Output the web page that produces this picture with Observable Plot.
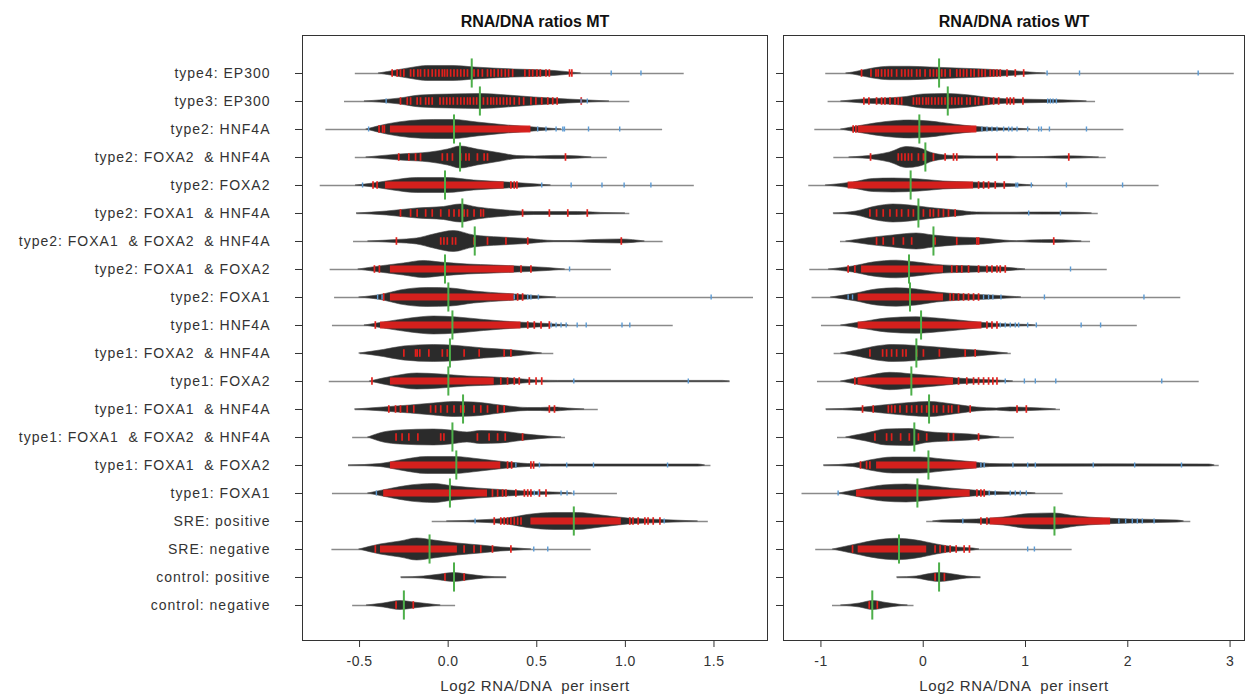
<!DOCTYPE html>
<html>
<head>
<meta charset="utf-8">
<script src="https://cdn.jsdelivr.net/npm/d3@7"></script>
<script src="https://cdn.jsdelivr.net/npm/@observablehq/plot@0.6"></script>
<style>
  body { margin: 0; background: #fff; }
  #wrap { position: relative; width: 1245px; height: 700px; overflow: hidden; }
  #wrap svg { position: absolute; top: 0; display: block; }
  #wrap svg text { white-space: pre; }
  g[aria-label="y-axis tick label"] text { letter-spacing: 1px; }
  g[aria-label="x-axis tick label"] text { letter-spacing: 0.5px; }
  .xl text { letter-spacing: 0.6px; }
</style>
</head>
<body>
<div id="wrap"></div>
<script>
// ---------- categories (top to bottom) ----------
const categories = [
  "type4: EP300", "type3: EP300", "type2: HNF4A", "type2: FOXA2  & HNF4A", "type2: FOXA2",
  "type2: FOXA1  & HNF4A", "type2: FOXA1  & FOXA2  & HNF4A", "type2: FOXA1  & FOXA2", "type2: FOXA1",
  "type1: HNF4A", "type1: FOXA2  & HNF4A", "type1: FOXA2", "type1: FOXA1  & HNF4A",
  "type1: FOXA1  & FOXA2  & HNF4A", "type1: FOXA1  & FOXA2", "type1: FOXA1",
  "SRE: positive", "SRE: negative", "control: positive", "control: negative"
];
const mtTicks = [-0.5, 0, 0.5, 1, 1.5];
const wtTicks = [-1, 0, 1, 2, 3];
const xLabel = "Log2 RNA/DNA  per insert";

// ---------- MT panel ----------
const mtMin = [-0.524, -0.585, -0.69, -0.524, -0.722, -0.515, -0.534, -0.666, -0.641, -0.653, -0.496, -0.671, -0.524, -0.539, -0.562, -0.653, -0.09, -0.656, -0.264, -0.539];
const mtMax = [1.332, 1.025, 1.21, 0.898, 1.389, 1.025, 1.213, 0.921, 1.723, 1.27, 0.596, 1.591, 0.847, 0.662, 1.483, 0.955, 1.468, 0.807, 0.33, 0.042];
const mtMedian = [0.133, 0.179, 0.033, 0.067, -0.018, 0.08, 0.15, -0.018, 0.001, 0.024, 0.01, 0.001, 0.084, 0.024, 0.046, 0.01, 0.709, -0.105, 0.033, -0.25];
// density profile per bean: [value, half-width density reading]
const mtDensity = [
  [[-0.39,0],[-0.29,3],[-0.19,6],[-0.12,7.5],[0.03,7.5],[0.15,6],[0.37,4],[0.6,2.5],[0.75,0]],
  [[-0.47,0],[-0.27,3],[-0.156,6],[0.014,7],[0.184,7.5],[0.335,6],[0.486,4],[0.675,2],[0.91,0]],
  [[-0.46,0],[-0.345,5],[-0.21,8.5],[-0.08,9.5],[0.03,9.5],[0.165,7],[0.335,4],[0.486,2],[0.64,0]],
  [[-0.46,0],[-0.27,3],[-0.1,5],[0,8],[0.07,11],[0.165,8],[0.3,4],[0.39,1.5],[0.49,1],[0.6,1.6],[0.68,1.5],[0.81,0]],
  [[-0.52,0],[-0.42,2],[-0.31,5],[-0.175,7.5],[-0.005,7.5],[0.146,5],[0.335,3],[0.505,1],[0.58,0]],
  [[-0.515,0],[-0.345,2],[-0.175,5],[-0.024,6.5],[0.071,9],[0.165,6],[0.297,3.5],[0.486,1.5],[0.732,1.5],[0.864,0.6],[1.0,0]],
  [[-0.45,0],[-0.29,1.5],[-0.175,3],[-0.08,7],[0.033,10.5],[0.146,6],[0.297,4],[0.449,2.5],[0.6,0.5],[0.675,0.4],[0.83,1.5],[0.977,2],[1.11,0]],
  [[-0.505,0],[-0.364,3.5],[-0.25,6],[-0.137,8.5],[-0.042,7],[0.109,5],[0.26,4],[0.392,3],[0.562,1.5],[0.66,0]],
  [[-0.5,0],[-0.364,3],[-0.269,7],[-0.118,9.5],[0.014,9],[0.146,6],[0.335,3.5],[0.486,1.5],[0.61,0]],
  [[-0.47,0],[-0.345,3.5],[-0.212,7],[-0.08,9],[0.052,8],[0.203,5.5],[0.392,3],[0.562,1.5],[0.68,0]],
  [[-0.5,0],[-0.364,3.5],[-0.25,7],[-0.08,8.5],[0.052,7.5],[0.203,5],[0.373,3],[0.53,0]],
  [[-0.44,0],[-0.307,5],[-0.175,8],[-0.042,7],[0.109,5],[0.26,4],[0.392,2.5],[0.524,0.8],[0.62,0.6],[1.55,0.6],[1.59,0]],
  [[-0.524,0],[-0.364,2],[-0.212,4],[-0.08,6],[0.033,7.5],[0.146,7],[0.297,4],[0.449,1.5],[0.524,1.5],[0.6,2],[0.675,1],[0.77,0]],
  [[-0.45,0],[-0.364,5],[-0.269,7],[-0.08,8],[0.014,7],[0.109,5],[0.184,6.5],[0.297,6],[0.411,3.5],[0.562,1],[0.64,0]],
  [[-0.56,0],[-0.382,1.5],[-0.269,5],[-0.118,8.5],[0.033,8.5],[0.184,6],[0.335,3],[0.449,1.5],[0.581,1],[1.41,1],[1.45,0]],
  [[-0.45,0],[-0.326,4.5],[-0.212,8],[-0.08,9.5],[0.033,7],[0.165,5],[0.335,3],[0.486,1.5],[0.628,0.8],[0.7,0]],
  [[-0.005,0],[0.222,1.5],[0.335,3],[0.449,6.5],[0.6,8.5],[0.732,8.5],[0.864,6],[1.015,3],[1.204,1.5],[1.41,0]],
  [[-0.5,0],[-0.382,5],[-0.269,8],[-0.175,11],[-0.08,9],[0.052,6],[0.184,4],[0.297,2],[0.392,1],[0.47,0]],
  [[-0.264,0],[-0.137,1],[-0.042,3],[0.033,4.5],[0.109,3],[0.203,1],[0.33,0]],
  [[-0.458,0],[-0.364,2],[-0.269,4.5],[-0.194,3],[-0.118,1.5],[-0.042,0]]
];
const mtDenseRuns = [
  [], [], [[-0.326,0.467]], [], [[-0.354,0.316]], [], [], [[-0.326,0.373]], [[-0.326,0.373]], [[-0.382,0.411]],
  [], [[-0.326,0.26]], [], [], [[-0.326,0.297]], [[-0.364,0.222]], [[0.467,0.977]], [[-0.382,0.052]], [], []
];
const mtRed = [
  [-0.316,-0.288,-0.269,-0.25,-0.212,-0.194,-0.171,-0.156,-0.133,-0.112,-0.09,-0.071,-0.052,-0.033,-0.02,-0.005,0.014,0.033,0.052,0.071,0.09,0.109,0.146,0.169,0.193,0.222,0.241,0.26,0.282,0.301,0.322,0.341,0.364,0.433,0.458,0.477,0.501,0.52,0.552,0.571,0.685,0.698],
  [-0.269,-0.231,-0.212,-0.175,-0.156,-0.127,-0.109,-0.09,-0.046,-0.027,-0.008,0.01,0.029,0.052,0.071,0.09,0.109,0.124,0.143,0.161,0.199,0.222,0.241,0.256,0.274,0.293,0.312,0.331,0.35,0.373,0.401,0.426,0.467,0.495,0.528,0.562,0.59,0.615,0.751],
  [-0.39,-0.37,-0.36],
  [-0.279,-0.222,-0.184,-0.156,-0.033,-0.005,0.024,0.071,0.1,0.118,0.165,0.203,0.222,0.662],
  [-0.424,-0.401,0.354,0.373,0.388],
  [-0.269,-0.212,-0.175,-0.127,-0.09,-0.042,0.005,0.033,0.061,0.09,0.109,0.146,0.184,0.199,0.42,0.571,0.675,0.785],
  [-0.292,-0.042,-0.024,-0.005,0.024,0.042,0.146,0.222,0.326,0.449,0.977],
  [-0.416,-0.388,0.411,0.467],
  [-0.364,0.392,0.42],
  [-0.411,0.449,0.486,0.524,0.571],
  [-0.25,-0.184,-0.175,-0.16,-0.109,-0.033,-0.005,0.09,0.175,0.316,0.354],
  [-0.43,0.297,0.335,0.373,0.401,0.458,0.496,0.528],
  [-0.335,-0.297,-0.269,-0.231,-0.194,-0.099,-0.071,-0.042,-0.005,0.033,0.071,0.09,0.146,0.184,0.222,0.279,0.316,0.571,0.6],
  [-0.294,-0.26,-0.222,-0.171,-0.042,-0.024,0.165,0.231,0.279,0.322,0.42],
  [0.335,0.358,0.467,0.482],
  [0.25,0.279,0.307,0.326,0.382,0.43,0.449,0.467,0.515,0.552],
  [0.26,0.297,0.316,0.335,0.354,0.373,0.392,0.411,1.025,1.043,1.072,1.11,1.128,1.157,1.195],
  [-0.411,0.09,0.146,0.184,0.25,0.354],
  [-0.018,0.09],
  [-0.294,-0.197]
];
const mtBlue = [
  [0.92,1.088], [-0.35,0.75,0.785], [-0.449,0.505,0.552,0.609,0.647,0.656,0.792,0.968], [],
  [-0.483,0.528,0.694,0.868,0.993,1.144], [], [], [0.685], [-0.398,-0.373,0.373,0.449,0.467,0.509,1.484],
  [0.581,0.609,0.637,0.666,0.728,0.779,0.981,1.025], [], [0.709,1.355], [], [], [0.382,0.515,0.669,0.82,1.238],
  [-0.405,0.486,0.509,0.637,0.671,0.709], [0.152,1.219], [0.483,0.562], [], []
];

// ---------- WT panel ----------
const wtMin = [-0.953, -0.93, -1.06, -0.874, -1.119, -0.874, -0.809, -1.109, -1.087, -0.995, -0.871, -1.034, -0.946, -0.838, -0.969, -1.185, 0.034, -1.051, -0.253, -0.887];
const wtMax = [3.041, 1.685, 1.962, 1.789, 2.306, 1.711, 1.636, 1.799, 2.518, 2.093, 0.861, 2.698, 1.342, 0.891, 2.894, 1.368, 2.616, 1.456, 0.564, -0.09];
const wtMedian = [0.155, 0.24, -0.038, 0.021, -0.123, -0.047, 0.1, -0.139, -0.129, -0.021, -0.067, -0.116, 0.057, -0.087, 0.051, -0.057, 1.283, -0.237, 0.155, -0.498];
const wtDensity = [
  [[-0.75,0],[-0.684,1],[-0.489,5],[-0.325,6.7],[-0.129,6.7],[0.067,6],[0.328,5],[0.59,4],[0.851,2.5],[1.113,0.5],[1.2,0]],
  [[-0.8,0],[-0.587,2],[-0.358,3],[-0.162,4.5],[0.002,7],[0.23,7.5],[0.459,6],[0.688,3],[0.917,2],[1.178,1.5],[1.538,0.5],[1.6,0]],
  [[-0.8,0],[-0.587,4],[-0.358,7.5],[-0.129,9],[0.067,8],[0.296,5],[0.525,2.5],[0.786,1],[0.982,0.5],[1.05,0]],
  [[-0.72,0],[-0.456,2.5],[-0.325,5],[-0.162,10.5],[-0.031,9],[0.1,4],[0.296,1.5],[0.525,1],[0.851,1],[0.949,0.3],[1.178,0.5],[1.407,1.2],[1.668,0.3],[1.72,0]],
  [[-0.95,0],[-0.685,3],[-0.489,6.5],[-0.292,7],[-0.031,6],[0.198,4],[0.459,3],[0.721,2],[1.015,0.5],[1.08,0]],
  [[-0.874,0],[-0.652,2],[-0.456,7],[-0.292,9],[-0.129,8],[0.067,5.5],[0.328,3],[0.525,1],[0.851,0.8],[1.178,1],[1.505,0.8],[1.65,0]],
  [[-0.75,0],[-0.521,3.5],[-0.292,6],[-0.064,8],[0.1,6],[0.328,4],[0.59,3],[0.786,1],[0.917,0.3],[1.047,1],[1.276,1.5],[1.44,0.8],[1.55,0]],
  [[-0.92,0],[-0.685,3],[-0.489,7],[-0.26,8.8],[-0.064,7],[0.198,4],[0.525,3],[0.786,2],[0.949,0.5],[1.0,0]],
  [[-0.9,0],[-0.652,4],[-0.456,8],[-0.26,9.2],[-0.064,8],[0.132,5],[0.394,3],[0.655,2],[0.9,0.5],[0.96,0]],
  [[-0.8,0],[-0.554,4],[-0.358,7],[-0.064,8.3],[0.132,7],[0.394,4.5],[0.59,2.5],[0.851,1],[1.047,0.5],[1.1,0]],
  [[-0.8,0],[-0.619,3.5],[-0.456,7],[-0.292,8.5],[-0.064,7.5],[0.132,6],[0.361,4],[0.525,3],[0.688,1.5],[0.83,0]],
  [[-0.8,0],[-0.554,5],[-0.325,8.7],[-0.096,7],[0.132,5],[0.328,3],[0.59,1.5],[0.819,0.5],[0.88,0]],
  [[-0.946,0],[-0.619,1.5],[-0.391,4],[-0.129,6.5],[0.067,7.5],[0.296,5],[0.525,2],[0.721,1],[0.851,2],[1.047,1.5],[1.243,0.5],[1.3,0]],
  [[-0.75,0],[-0.685,1.5],[-0.554,4],[-0.358,8],[-0.129,8.5],[0.034,5.5],[0.263,4],[0.459,3],[0.655,1],[0.75,0]],
  [[-0.969,0],[-0.685,1.5],[-0.521,5],[-0.292,8],[-0.031,8],[0.198,6],[0.459,3.5],[0.655,1.5],[0.851,1.2],[2.796,1],[2.85,0]],
  [[-0.82,0],[-0.619,4],[-0.391,8],[-0.162,9],[0.034,7.5],[0.263,5],[0.492,3],[0.688,1.5],[1.047,0.5],[1.1,0]],
  [[0.1,0],[0.181,1],[0.525,2],[0.786,4],[1.047,7.5],[1.276,8],[1.505,5],[1.766,3],[2.028,2],[2.485,1],[2.55,0]],
  [[-0.88,0],[-0.652,5],[-0.456,9],[-0.26,10.7],[-0.064,9],[0.132,5],[0.328,2],[0.492,1],[0.55,0]],
  [[-0.253,0],[-0.064,1],[0.067,3.5],[0.165,4.5],[0.296,3],[0.426,1],[0.564,0]],
  [[-0.8,0],[-0.619,2],[-0.489,4.5],[-0.358,2.5],[-0.211,0.5],[-0.15,0]]
];
const wtDenseRuns = [
  [], [], [[-0.636,0.525]], [], [[-0.734,0.492]], [], [], [[-0.603,0.198]], [[-0.636,0.198]], [[-0.636,0.574]],
  [], [[-0.636,0.296]], [], [], [[-0.456,0.525]], [[-0.652,0.459]], [[0.655,1.832]], [[-0.636,0.034]], [], []
];
const wtRed = [
  [-0.603,-0.511,-0.462,-0.44,-0.407,-0.374,-0.342,-0.309,-0.26,-0.211,-0.178,-0.145,-0.113,-0.064,-0.031,0.018,0.067,0.1,0.132,0.181,0.214,0.263,0.328,0.361,0.394,0.426,0.466,0.498,0.541,0.574,0.606,0.655,0.688,0.721,0.753,0.819,0.9,0.982],
  [-0.58,-0.531,-0.456,-0.407,-0.374,-0.325,-0.276,-0.244,-0.211,-0.096,-0.064,-0.038,-0.005,0.028,0.051,0.083,0.116,0.149,0.181,0.214,0.247,0.279,0.312,0.345,0.377,0.426,0.459,0.508,0.541,0.59,0.639,0.688,0.737,0.819,0.851,0.884,0.975],
  [-0.685,-0.658],
  [-0.515,-0.244,-0.211,-0.178,-0.145,-0.113,-0.047,0.002,0.018,0.1,0.214,0.296,0.328,0.721,1.423],
  [0.541,0.59,0.639,0.704,0.792],
  [-0.521,-0.456,-0.391,-0.325,-0.26,-0.211,-0.145,-0.096,0.002,0.067,0.1,0.149,0.198,0.247,0.312],
  [-0.456,-0.391,-0.292,-0.194,-0.113,0.116,0.328,0.525,0.541,1.276],
  [-0.734,-0.668,0.279,0.328,0.377,0.443,0.541,0.623,0.672,0.721,0.753,0.802],
  [0.263,0.296,0.345,0.394,0.443,0.492,0.541],
  [0.623,0.672,0.721],
  [-0.521,-0.397,-0.358,-0.309,-0.26,-0.201,-0.168,-0.064,0.002,0.158,0.41,0.508],
  [-0.668,0.345,0.426,0.492,0.541,0.59,0.639,0.681,0.721],
  [-0.593,-0.489,-0.341,-0.309,-0.276,-0.227,-0.162,-0.113,-0.064,-0.015,0.034,0.1,0.132,0.198,0.247,0.279,0.345,0.459,0.917,1.008],
  [-0.472,-0.358,-0.309,-0.221,-0.136,-0.047,0.034,0.247,0.296,0.541],
  [-0.613,-0.554,-0.521],
  [0.525,0.564,0.596],
  [0.564,0.623],
  [-0.691,0.116,0.165,0.214,0.263,0.322,0.4,0.452],
  [0.116,0.207],
  [-0.528,-0.449]
];
const wtBlue = [
  [1.211,1.528,2.688], [1.217,1.243,1.269,1.302], [0.574,0.623,0.672,0.721,0.786,0.835,0.868,0.917,1.021,1.129,1.155,1.234,1.596], [],
  [0.907,0.923,1.057,1.4,1.949], [1.031,1.342], [], [1.44], [-0.734,-0.691,0.59,0.639,0.681,0.76,1.185,2.158],
  [0.753,0.802,0.851,0.9,0.933,1.021,1.106,1.544,1.734], [], [0.802,0.989,1.096,1.296,2.332], [], [],
  [0.564,0.596,0.877,1.021,1.096,1.662,2.067,2.525], [-0.832,0.645,0.704,0.851,0.9,0.949,1.008],
  [0.387,1.913,1.979,2.044,2.093,2.142,2.257], [1.021,1.087], [], []
];

// ---------- drawing ----------
const beanScale = 1 / 28;
const rows = d3.range(categories.length);

function panel(o) {
  const area = rows.flatMap(i => o.dens[i].map(([x, h]) => ({i, x, lo: i - h * beanScale, hi: i + h * beanScale})));
  const runs = rows.flatMap(i => o.runs[i].map(([a, b]) => ({i, a, b})));
  const red = rows.flatMap(i => o.red[i].map(x => ({i, x})));
  const blue = rows.flatMap(i => o.blue[i].map(x => ({i, x})));
  const svg = Plot.plot({
    width: o.width, height: 700,
    marginLeft: o.ml, marginRight: o.mr, marginTop: 35, marginBottom: 60,
    style: {fontFamily: "Arial, 'Liberation Sans', sans-serif", fontSize: "14px", color: "#333", background: "transparent", overflow: "visible"},
    x: {domain: o.domain, label: null},
    y: {domain: [-1.357, 20.25], range: [35, 640], label: null},
    marks: [
      Plot.ruleY(rows, {y: i => i, x1: i => o.min[i], x2: i => o.max[i], stroke: "#8a8a8a", strokeWidth: 1.6}),
      Plot.areaY(area, {x: "x", y1: "lo", y2: "hi", z: "i", fill: "#2b2b2b", stroke: "#444", strokeWidth: 0.6, curve: "monotone-x"}),
      Plot.rect(runs, {x1: "a", x2: "b", y1: d => d.i - 0.125, y2: d => d.i + 0.125, fill: "#e3201c", fillOpacity: 0.92}),
      Plot.ruleX(red, {x: "x", y1: d => d.i - 0.135, y2: d => d.i + 0.135, stroke: "#e3201c", strokeWidth: 1.7}),
      Plot.ruleX(blue, {x: "x", y1: d => d.i - 0.09, y2: d => d.i + 0.09, stroke: "#5b9bd5", strokeWidth: 1.4}),
      Plot.ruleX(rows, {x: i => o.median[i], y1: i => i - 0.52, y2: i => i + 0.52, stroke: "#4daf4a", strokeWidth: 2}),
      Plot.frame({stroke: "#333", strokeWidth: 1}),
      Plot.axisY(rows, {tickSize: 7, tickPadding: 25, fontSize: 14, label: null,
        tickFormat: i => o.showLabels ? categories[i] : ""}),
      Plot.axisX(o.ticks, {tickSize: 7, tickPadding: 9, fontSize: 14, label: null, tickFormat: o.fmt}),
      Plot.text([xLabel], {frameAnchor: "bottom", dy: 50, text: d => d, fontSize: 15, fill: "#333", className: "xl"}),
      Plot.text([o.title], {frameAnchor: "top", dy: -20, text: d => d, fontSize: 16, fontWeight: "bold", fill: "#111"})
    ]
  });
  svg.style.left = o.left + "px";
  return svg;
}

const wrap = document.getElementById("wrap");
wrap.appendChild(panel({
  title: "RNA/DNA ratios MT", left: 0, width: 770, ml: 302, mr: 3,
  domain: [-0.822, 1.802], ticks: mtTicks, fmt: d => d.toFixed(1), showLabels: true,
  min: mtMin, max: mtMax, median: mtMedian, dens: mtDensity, runs: mtDenseRuns, red: mtRed, blue: mtBlue
}));
wrap.appendChild(panel({
  title: "RNA/DNA ratios WT", left: 770, width: 475, ml: 13, mr: 1,
  domain: [-1.366, 3.141], ticks: wtTicks, fmt: d => String(d), showLabels: false,
  min: wtMin, max: wtMax, median: wtMedian, dens: wtDensity, runs: wtDenseRuns, red: wtRed, blue: wtBlue
}));
</script>
</body>
</html>
